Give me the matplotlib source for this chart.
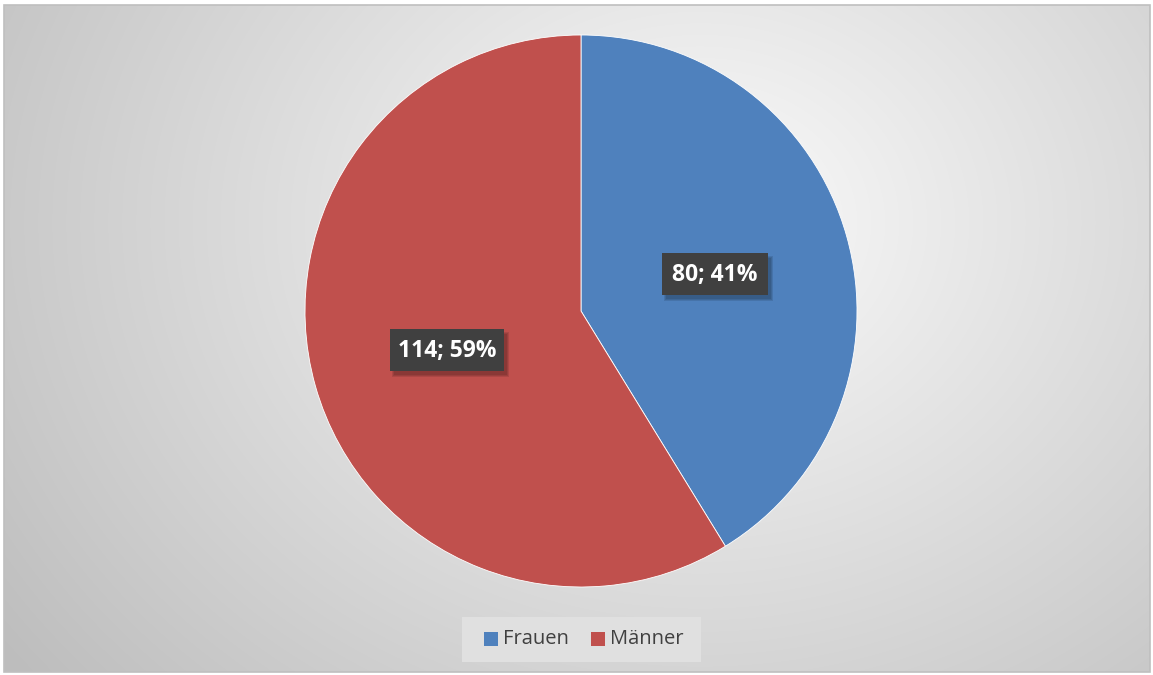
import numpy as np
import matplotlib
matplotlib.use("Agg")
import matplotlib.pyplot as plt
from matplotlib.patches import Rectangle

categories = ["Frauen", "Männer"]
values = [80, 114]
percent_labels = ["41%", "59%"]
colors = ["#4f81bd", "#c0504d"]

W, H = 1153, 675
fig = plt.figure(figsize=(W / 100, H / 100), dpi=100)
fig.patch.set_facecolor("white")

# background radial gradient
bg = fig.add_axes([0, 0, 1, 1])
bg.set_xlim(0, W)
bg.set_ylim(H, 0)
bg.axis("off")
yy, xx = np.mgrid[0:H, 0:W]
d = np.sqrt(((xx - 700) / 720.0) ** 2 + ((yy - 220) / 600.0) ** 2)
val = 0.985 - 0.20 * np.clip(d, 0, 1.2)
img = np.dstack([val, val, val])
bg.imshow(img, extent=[4, 1150, 672, 5], aspect="auto", zorder=0)
bg.add_patch(Rectangle((4, 5), 1146, 667, fill=False, edgecolor="#bfbfbf", lw=1.2, zorder=1))

# pie axes: center (581, 311), radius 276
cx, cy, r = 581, 311, 276
ax = fig.add_axes([(cx - r) / W, 1 - (cy + r) / H, 2 * r / W, 2 * r / H])
ax.set_facecolor("none")
wedges, _ = ax.pie(values, colors=colors, startangle=90, counterclock=False,
                   radius=1.0, wedgeprops=dict(edgecolor="white", linewidth=0.6))
ax.set_xlim(-1, 1)
ax.set_ylim(-1, 1)
ax.set_aspect("auto")

# overlay for labels and legend
ov = fig.add_axes([0, 0, 1, 1])
ov.set_xlim(0, W)
ov.set_ylim(H, 0)
ov.axis("off")
ov.patch.set_alpha(0)

# label boxes (centre, half width, half height)
label_boxes = [(715, 274, 53, 21), (447, 350, 57, 21)]
for (px, py, hw, hh), v, p in zip(label_boxes, values, percent_labels):
    for k, a in [(0, 0.10), (2, 0.10), (4, 0.10)]:
        ov.add_patch(Rectangle((px - hw + 2 + k * 0.5, py - hh + 3 + k * 0.5), 2 * hw + 3 - k, 2 * hh + 3 - k,
                               facecolor="#000000", alpha=a, edgecolor="none", zorder=4))
    ov.add_patch(Rectangle((px - hw, py - hh), 2 * hw, 2 * hh,
                           facecolor="#404040", edgecolor="none", zorder=5))
    ov.text(px, py + 1, f"{v}; {p}", ha="center", va="center", fontsize=16.5, fontweight="bold",
            color="white", family="Open Sans", zorder=6)

# legend
ov.add_patch(Rectangle((462, 617), 239, 45, facecolor="#e0e0e0", edgecolor="none", zorder=3))
items = [(484, "Frauen"), (591, "Männer")]
for (x, name), c in zip(items, colors):
    ov.add_patch(Rectangle((x, 632), 14, 14, facecolor=c, edgecolor="none", zorder=4))
    ov.text(x + 19, 639, name, ha="left", va="center", fontsize=14.5, color="#404040",
            family="Open Sans", zorder=4)

fig.savefig("out.png", dpi=100)
